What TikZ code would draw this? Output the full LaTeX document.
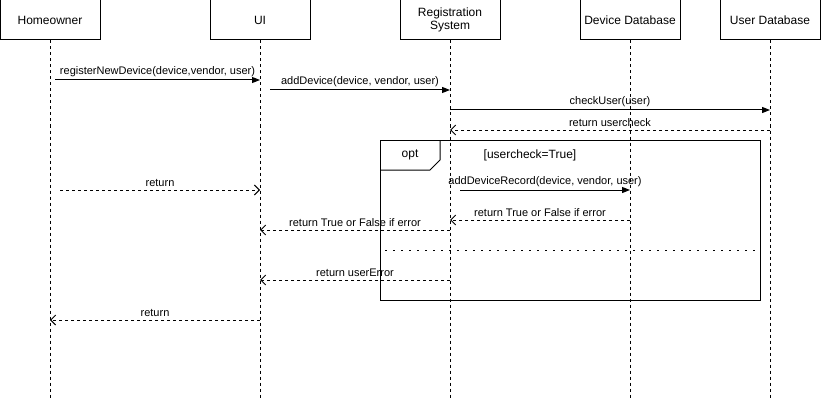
\documentclass[tikz,border=0pt]{standalone}
\usepackage{fontspec}
\setmainfont{Liberation Sans}
\usetikzlibrary{arrows.meta}
\begin{document}
\begin{tikzpicture}[x=1pt,y=-1pt,
  actor/.style={draw,line width=1pt,minimum width=100pt,minimum height=40pt,inner sep=0pt,align=center,font=\fontsize{12}{14}\selectfont},
  life/.style={line width=1pt,dash pattern=on 3pt off 3pt},
  msg/.style={line width=1pt,-{Triangle[length=8pt,width=6pt]}},
  ret/.style={line width=1pt,dash pattern=on 3pt off 3pt,-{Straight Barb[length=5pt,width=10pt]}},
  lbl/.style={font=\fontsize{11}{13}\selectfont,inner sep=1pt,anchor=south}]
\useasboundingbox (0,0) rectangle (821,401);
% actors
\node[actor] (ho) at (50,20) {Homeowner};
\node[actor] (ui) at (260,20) {UI};
\node[actor] (rs) at (450,20) {Registration\\[-1pt]System};
\node[actor] (dd) at (630,20) {Device Database};
\node[actor] (ud) at (770,20) {User Database};
% lifeline ends
\coordinate (hoE) at (50,400);
\coordinate (uiE) at (260,400);
\coordinate (rsE) at (450,400);
\coordinate (ddE) at (630,400);
\coordinate (udE) at (770,400);
\draw[life] (ho.south) -- (hoE);
\draw[life] (ui.south) -- (uiE);
\draw[life] (rs.south) -- (rsE);
\draw[life] (dd.south) -- (ddE);
\draw[life] (ud.south) -- (udE);
% opt frame
\draw[line width=1pt] (380,140) rectangle (760,300);
\draw[line width=1pt] (380,170) -- (430,170) -- (440,160) -- (440,140);
\node[font=\fontsize{12}{14}\selectfont] (optl) at (410,155) {opt};
\node[font=\fontsize{12}{14}\selectfont] (cond) at (530,155) {[usercheck=True]};
\draw[line width=1pt,dash pattern=on 2pt off 6pt] (385,250) -- (760,250);
% messages
\coordinate (m1s) at (55,80);  \coordinate (m1e) at (260,80);
\draw[msg] (m1s) -- node[lbl,above=2pt] {registerNewDevice(device,vendor, user)} (m1e);
\coordinate (m2s) at (270,90); \coordinate (m2e) at (450,90);
\draw[msg] (m2s) -- node[lbl,above=2pt] {addDevice(device, vendor, user)} (m2e);
\coordinate (m3s) at (450,110); \coordinate (m3e) at (770,110);
\draw[msg] (m3s) -- node[lbl,above=2pt] {checkUser(user)} (m3e);
\coordinate (m4s) at (770,130); \coordinate (m4e) at (450,130);
\draw[ret] (m4s) -- node[lbl,above=2pt] {return usercheck} (m4e);
\coordinate (m5s) at (60,190); \coordinate (m5e) at (260,190);
\draw[ret] (m5s) -- node[lbl,above=2pt] {return} (m5e);
\coordinate (m6s) at (460,190); \coordinate (m6e) at (630,190);
\draw[msg] (m6s) -- node[lbl,above=2pt] {addDeviceRecord(device, vendor, user)} (m6e);
\coordinate (m7s) at (630,220); \coordinate (m7e) at (450,220);
\draw[ret] (m7s) -- node[lbl,above=2pt] {return True or False if error} (m7e);
\coordinate (m8s) at (450,230); \coordinate (m8e) at (260,230);
\draw[ret] (m8s) -- node[lbl,above=2pt] {return True or False if error} (m8e);
\coordinate (m9s) at (450,280); \coordinate (m9e) at (260,280);
\draw[ret] (m9s) -- node[lbl,above=2pt] {return userError} (m9e);
\coordinate (m10s) at (260,320); \coordinate (m10e) at (50,320);
\draw[ret] (m10s) -- node[lbl,above=2pt] {return} (m10e);
\end{tikzpicture}
\end{document}
